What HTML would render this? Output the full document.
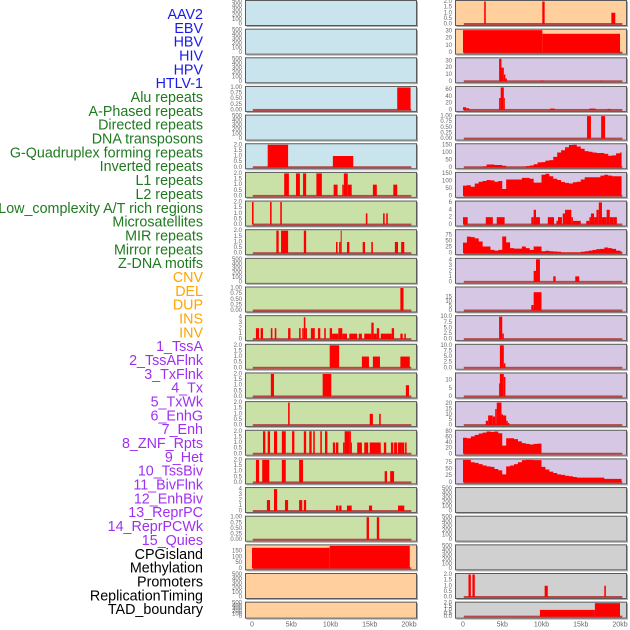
<!DOCTYPE html>
<html><head><meta charset="utf-8">
<style>
html,body{margin:0;padding:0;background:#fff;width:630px;height:630px;overflow:hidden}
svg{display:block;font-family:"Liberation Sans",sans-serif}
</style></head>
<body>
<svg id="chart" width="630" height="630" viewBox="0 0 630 630" xmlns="http://www.w3.org/2000/svg"></svg>
<script>
// ---- labels ----
const trackLabels = ["AAV2","EBV","HBV","HIV","HPV","HTLV-1","Alu repeats","A-Phased repeats","Directed repeats","DNA transposons","G-Quadruplex forming repeats","Inverted repeats","L1 repeats","L2 repeats","Low_complexity A/T rich regions","Microsatellites","MIR repeats","Mirror repeats","Z-DNA motifs","CNV","DEL","DUP","INS","INV","1_TssA","2_TssAFlnk","3_TxFlnk","4_Tx","5_TxWk","6_EnhG","7_Enh","8_ZNF_Rpts","9_Het","10_TssBiv","11_BivFlnk","12_EnhBiv","13_ReprPC","14_ReprPCWk","15_Quies","CPGisland","Methylation","Promoters","ReplicationTiming","TAD_boundary"];
const labelGroups = ["virus","virus","virus","virus","virus","virus","repeat","repeat","repeat","repeat","repeat","repeat","repeat","repeat","repeat","repeat","repeat","repeat","repeat","sv","sv","sv","sv","sv","state","state","state","state","state","state","state","state","state","state","state","state","state","state","state","other","other","other","other","other"];
const xTickValues = [0,5,10,15,20];
const xTickLabels = ["0","5kb","10kb","15kb","20kb"];

// ---- left column segment data [startKb,endKb,value] ----
const leftAlu = [[18.5,20.2,1]];
const leftGquad = [[2.0,4.6,2],[10.3,12.9,1]];
const leftL1 = [[4.1,4.7,2],[5.6,6.1,2],[6.5,6.9,2],[8.2,8.9,2],[10.4,10.9,1],[11.5,11.7,1],[11.7,12.2,2],[12.2,12.7,1],[15.4,15.9,1],[18.0,18.5,1]];
const leftLowComp = [[0,0.2,2],[2.3,2.5,2],[3.6,3.8,2],[14.5,14.7,1],[16.7,16.9,1],[17.1,17.3,1]];
const leftMIR = [[3.1,3.4,2],[3.7,4.6,2],[6.6,6.9,2],[10.7,10.9,1],[11.1,11.3,1],[11.3,11.4,2],[12.1,12.4,1],[14.1,14.4,1],[15.2,15.4,1],[18.2,18.6,1],[19.0,19.4,1]];
const leftDEL = [[18.9,19.3,1]];
const leftINS = [[0.5,0.9,2],[1.1,1.4,2],[2.4,2.6,2],[2.9,3.1,2],[4.6,4.9,2],[6.0,6.2,2],[6.4,6.6,2],[6.6,6.8,4],[6.8,7.0,2],[7.5,8.0,2],[8.4,8.7,2],[9.2,9.4,2],[9.9,10.2,2],[10.2,11.0,1],[11.0,11.5,2],[11.5,12.1,1],[12.4,13.4,1],[13.6,14.0,1],[14.3,15.2,1],[15.2,15.5,3],[15.5,15.9,1],[15.9,16.2,2],[16.4,17.8,1],[17.8,18.1,2],[18.9,19.2,1],[19.4,19.6,1]];
const leftTssA = [[9.9,11.1,2],[14.0,14.9,1],[15.4,16.3,1],[18.9,20.1,1]];
const leftTxFlnk = [[2.4,2.8,2],[9.0,10.1,2],[19.6,20.0,1]];
const leftTxWk = [[4.6,4.8,2],[15.0,15.4,1],[16.2,16.4,1]];
const leftEnh = [[1.4,1.7,2],[2.0,2.3,2],[2.8,3.2,2],[3.8,4.3,2],[5.1,5.4,2],[6.6,6.9,2],[7.3,7.6,2],[7.8,8.0,2],[8.7,8.9,2],[9.3,9.6,2],[10.3,10.6,1],[10.7,11.0,1],[11.6,11.8,1],[11.8,12.4,2],[12.4,12.6,2],[12.6,12.7,1],[13.4,14.0,1],[14.3,14.8,1],[15.0,16.4,1],[16.8,17.1,1],[17.7,18.0,1],[18.1,18.5,1],[18.6,19.1,1],[19.1,19.4,1],[19.5,19.7,1]];
const leftHet = [[0.5,0.9,2],[1.3,2.2,2],[3.8,4.3,2],[6.0,6.5,2],[16.9,17.2,1],[17.6,18.1,1]];
const leftBivFlnk = [[1.9,2.3,2],[2.8,3.2,4],[4.2,4.6,2],[6.0,6.4,2],[6.6,6.9,2],[10.7,11.0,1],[11.1,11.4,1],[12.1,12.7,1],[14.9,15.3,1],[18.6,19.4,1]];
const leftReprPC = [[14.6,14.9,1],[15.9,16.2,1]];
const leftCPG = [[0,9.9,178],[9.9,20.1,195]];

// ---- right column segment data ----
const rightAAV2 = [[2.7,2.9,2],[10.1,10.4,2],[18.9,19.4,1]];
const rightEBV = [[0,10.1,31],[10.1,20.0,26]];
const rightHIV = [[4.6,4.9,35],[4.9,5.2,20],[5.2,5.4,10],[5.4,5.6,4],[9.8,10.3,1],[17.5,17.8,1]];
const rightHPV = [[0,0.4,8],[0.4,0.8,5],[4.6,4.8,35],[4.8,5.2,70],[5.2,5.3,35],[11.1,11.7,4],[16.1,16.9,4],[18.4,18.8,3]];
const rightDirected = [[15.8,16.3,1],[17.6,18.1,1]];
const rightLowComp = [[0,0.6,2],[2.9,3.8,2],[4.3,5.3,2],[8.7,9.0,2],[9.0,9.3,4],[9.3,9.8,2],[10.8,11.6,2],[11.9,12.1,1],[12.1,12.6,2],[12.7,13.0,3],[13.0,13.8,4],[13.8,14.0,2],[14.0,15.0,1],[15.7,16.1,1],[16.1,16.3,2],[16.3,16.7,3],[16.7,17.0,2],[17.0,17.3,4],[17.3,17.7,6],[17.7,18.3,2],[18.3,18.7,4],[18.7,19.2,2],[19.2,19.6,2]];
const rightZDNA = [[9.0,9.3,2],[9.3,9.8,4.5],[11.5,11.8,1],[14.3,14.8,1]];
const rightDEL = [[8.7,9.0,6],[9.0,10.0,20]];
const rightINS = [[4.6,5.0,10],[5.0,5.2,2.5]];
const rightTssA = [[4.7,5.2,10],[5.2,5.4,2]];
const rightTxFlnk = [[4.6,4.7,8],[4.7,5.2,14],[5.2,5.4,12]];
const rightTxWk = [[2.9,3.2,4],[3.2,3.8,9],[3.8,4.1,8],[4.1,4.3,15],[4.3,4.9,22],[4.9,5.1,10],[5.1,5.5,9],[5.5,5.7,4],[5.7,5.9,2]];
const rightPromoters = [[0.7,1.0,2],[1.2,1.5,2],[10.4,10.8,1],[18.0,18.2,1]];
const rightTAD = [[9.8,16.8,1],[16.8,20.0,2]];

// ---- right column profiles (values every 0.5 kb from 0) ----
const rightGquadProfile = [0,0,0,0,0,5,19,19,15,15,10,0,0,0,0,0,8,12,20,33,35,45,48,70,100,115,135,150,154,140,125,109,105,100,96,96,90,78,80,94,100];
const rightL1Profile = [69,72,62,84,96,101,107,105,96,101,47,111,111,111,111,122,122,116,90,90,143,150,133,116,107,94,88,84,92,96,111,126,126,126,126,137,143,137,133,133,133];
const rightMIRProfile = [44,69,67,62,49,28,28,14,11,14,70,45,21,19,19,28,21,14,28,28,8,10,8,7,6,3,3,3,3,3,6,8,11,14,17,18,24,21,18,11,8];
const rightEnhProfile = [57,55,62,67,72,75,79,78,79,73,29,55,55,52,44,38,35,33,35,36,1,1,1,1,1,1,1,1,1,1,1,1,1,1,1,1,1,1,1,1,1];
const rightHetProfile = [88,85,75,73,68,63,60,58,50,45,30,60,63,68,75,83,85,85,83,83,58,48,40,35,30,28,25,23,20,18,18,18,18,18,18,18,13,13,13,13,13];

// ---- tick label sets ----
const ticks500 = ["0","100","200","300","400","500"];
const ticks1 = ["0.00","0.25","0.50","0.75","1.00"];
const ticks2 = ["0.0","0.5","1.0","1.5","2.0"];
const ticks4 = ["0","1","2","3","4"];

const colors = {virus:"#1a1aee", repeat:"#1f7a1f", sv:"#ffa500", state:"#a030f0", other:"#000000"};
const bg = {blue:"#c9e4ec", green:"#c9e1a6", orange:"#ffd09e", purple:"#d6c8e4", grey:"#d0d0d0"};

const panelList = [
 ["L",0,"blue",500,ticks500,[0,100,200,300,400,500],null,null,"aav2-ebv"],
 ["L",1,"blue",500,ticks500,[0,100,200,300,400,500],null,null,"hbv-hiv"],
 ["L",2,"blue",500,ticks500,[0,100,200,300,400,500],null,null,"hpv-htlv1"],
 ["L",3,"blue",1,ticks1,[0,0.25,0.5,0.75,1],leftAlu,null,"alu"],
 ["L",4,"blue",500,ticks500,[0,100,200,300,400,500],null,null,"directed"],
 ["L",5,"blue",2,ticks2,[0,0.5,1,1.5,2],leftGquad,null,"gquad"],
 ["L",6,"green",2,ticks2,[0,0.5,1,1.5,2],leftL1,null,"l1"],
 ["L",7,"green",2,ticks2,[0,0.5,1,1.5,2],leftLowComp,null,"lowcomp"],
 ["L",8,"green",2,ticks2,[0,0.5,1,1.5,2],leftMIR,null,"mir"],
 ["L",9,"green",500,ticks500,[0,100,200,300,400,500],null,null,"zdna"],
 ["L",10,"green",1,ticks1,[0,0.25,0.5,0.75,1],leftDEL,null,"del"],
 ["L",11,"green",4.1,ticks4,[0,1,2,3,4],leftINS,null,"ins"],
 ["L",12,"green",2,ticks2,[0,0.5,1,1.5,2],leftTssA,null,"tssa"],
 ["L",13,"green",2,ticks2,[0,0.5,1,1.5,2],leftTxFlnk,null,"txflnk"],
 ["L",14,"green",2,ticks2,[0,0.5,1,1.5,2],leftTxWk,null,"txwk"],
 ["L",15,"green",2,ticks2,[0,0.5,1,1.5,2],leftEnh,null,"enh"],
 ["L",16,"green",2,ticks2,[0,0.5,1,1.5,2],leftHet,null,"het"],
 ["L",17,"green",4.1,ticks4,[0,1,2,3,4],leftBivFlnk,null,"bivflnk"],
 ["L",18,"green",1,ticks1,[0,0.25,0.5,0.75,1],leftReprPC,null,"reprpc"],
 ["L",19,"orange",195,["0","50","100","150"],[0,50,100,150],leftCPG,null,"cpg"],
 ["L",20,"orange",500,ticks500,[0,100,200,300,400,500],null,null,"methylation"],
 ["L",21,"orange",500,ticks500,[0,100,200,300,400,500],null,null,"tad"],
 ["R",0,"orange",2,ticks2,[0,0.5,1,1.5,2],rightAAV2,null,"aav2"],
 ["R",1,"orange",31,["0","10","20","30"],[0,10,20,30],rightEBV,null,"hbv"],
 ["R",2,"purple",33,["0","10","20","30"],[0,10,20,30],rightHIV,null,"hiv"],
 ["R",3,"purple",66,["0","20","40","60"],[0,20,40,60],rightHPV,null,"hpv"],
 ["R",4,"purple",1,ticks1,[0,0.25,0.5,0.75,1],rightDirected,null,"directed"],
 ["R",5,"purple",152,["0","50","100","150"],[0,50,100,150],null,rightGquadProfile,"gquad"],
 ["R",6,"purple",152,["0","50","100","150"],[0,50,100,150],null,rightL1Profile,"l1"],
 ["R",7,"purple",6.1,["0","2","4","6"],[0,2,4,6],rightLowComp,null,"lowcomp"],
 ["R",8,"purple",94,["0","25","50","75"],[0,25,50,75],null,rightMIRProfile,"mir"],
 ["R",9,"purple",4.1,ticks4,[0,1,2,3,4],rightZDNA,null,"zdna"],
 ["R",10,"purple",24.6,["0","5","10","15"],[0,5,10,15],rightDEL,null,"del"],
 ["R",11,"purple",10,["0.0","2.5","5.0","7.5","10.0"],[0,2.5,5,7.5,10],rightINS,null,"ins"],
 ["R",12,"purple",10,["0.0","2.5","5.0","7.5","10.0"],[0,2.5,5,7.5,10],rightTssA,null,"tssa"],
 ["R",13,"purple",13.8,["0","5","10"],[0,5,10],rightTxFlnk,null,"txflnk"],
 ["R",14,"purple",21,["0","5","10","15","20"],[0,5,10,15,20],rightTxWk,null,"txwk"],
 ["R",15,"purple",80,["0","20","40","60","80"],[0,20,40,60,80],null,rightEnhProfile,"enh"],
 ["R",16,"purple",84,["0","25","50","75"],[0,25,50,75],null,rightHetProfile,"het"],
 ["R",17,"grey",500,ticks500,[0,100,200,300,400,500],null,null,"bivflnk"],
 ["R",18,"grey",500,ticks500,[0,100,200,300,400,500],null,null,"reprpc"],
 ["R",19,"grey",500,ticks500,[0,100,200,300,400,500],null,null,"cpg"],
 ["R",20,"grey",2,ticks2,[0,0.5,1,1.5,2],rightPromoters,null,"promoters"],
 ["R",21,"grey",2,ticks2,[0,0.5,1,1.5,2],rightTAD,null,"tad"]
];

const svg = document.getElementById('chart');
const NS = "http://www.w3.org/2000/svg";
function mk(tag, attrs){const e=document.createElementNS(NS,tag);for(const k in attrs)e.setAttribute(k,attrs[k]);return e;}
const colX = {L:245, R:455};
const zeroX = {L:252, R:463};
const PXKB = 7.85;
function xScale(col,kb){return zeroX[col]+kb*PXKB;}
function rowTop(r){return r*28.65;}
function rowH(r){return r===21?16:25;}
function yScale(r,ymax,v){const t=rowTop(r),h=rowH(r);const vv=Math.min(v,ymax);return t+h-1-vv/ymax*(h-2.5);}

trackLabels.forEach((lab,i)=>{
  const t=mk('text',{x:203,y:15+i*13.84,'text-anchor':'end','dominant-baseline':'central','font-size':'14.3',fill:colors[labelGroups[i]]});
  t.textContent=lab;
  
  
  svg.appendChild(t);
});

panelList.forEach(p=>{
  const [col,r,bgk,ymax,tl,tv,segs,prof,nm]=p;
  const g=mk('g',{});
  
  
  svg.appendChild(g);
  const top=rowTop(r),h=rowH(r);
  const bgr=mk('rect',{x:colX[col]+0.5,y:top+0.5,width:171,height:h,fill:bg[bgk],stroke:'#5a5a5a','stroke-width':1});
  
  
  g.appendChild(bgr);
  const sh=mk('path',{d:`M${colX[col]+172.5},${top+1.5} V${top+h+1.5} H${colX[col]+1.5}`,stroke:'#aaa','stroke-width':1,fill:'none'});
  
  
  g.appendChild(sh);
  tl.forEach((s,j)=>{
    const t=mk('text',{x:colX[col]-3,y:yScale(r,ymax,tv[j])+0.5,'text-anchor':'end','dominant-baseline':'central','font-size':'6',fill:'#666'});
    t.textContent=s;
    
    
    g.appendChild(t);
  });
  if(segs||prof){
    const base=mk('rect',{x:xScale(col,0.1),y:yScale(r,ymax,0)-1,width:xScale(col,20.3)-xScale(col,0.1),height:2,fill:'#b84848'});
    
    
    g.appendChild(base);
  }
  if(segs){
    segs.forEach(s=>{
      const x0=xScale(col,s[0]),x1=xScale(col,s[1]);const y1=yScale(r,ymax,s[2]),y0=yScale(r,ymax,0);
      const b=mk('rect',{x:x0,y:y1,width:Math.max(1,x1-x0),height:y0-y1,fill:'#ff0000'});
      
      
      g.appendChild(b);
    });
  }
  if(prof){
    const y0=yScale(r,ymax,0);
    let d=`M${xScale(col,0)},${y0}`;
    prof.forEach((v,k)=>{const xa=xScale(col,k*0.5),xb=xScale(col,Math.min(20.2,(k+1)*0.5));const y=yScale(r,ymax,v);d+=` L${xa},${y} L${xb},${y}`;});
    d+=` L${xScale(col,20.2)},${y0} Z`;
    const a=mk('path',{d:d,fill:'#ff0000'});
    
    
    g.appendChild(a);
  }
});

['L','R'].forEach(col=>{
  xTickValues.forEach((v,i)=>{
    const t=mk('text',{x:xScale(col,v),y:625,'text-anchor':'middle','dominant-baseline':'central','font-size':'7',fill:'#666'});
    t.textContent=xTickLabels[i];
    
    
    svg.appendChild(t);
  });
});
</script>
</body></html>
